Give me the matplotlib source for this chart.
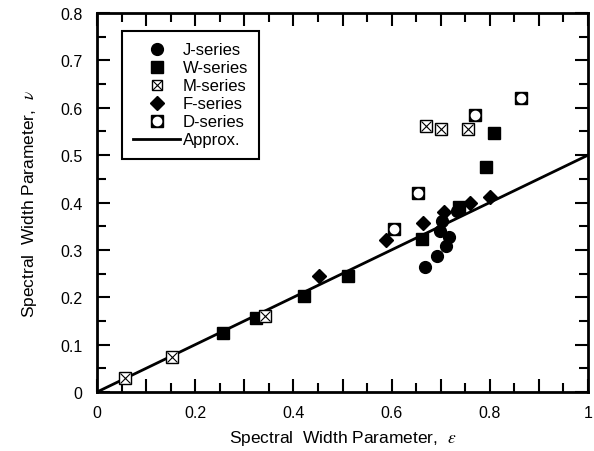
import matplotlib
matplotlib.use("Agg")
import matplotlib.pyplot as plt
import numpy as np
from matplotlib.ticker import MultipleLocator, FuncFormatter
from matplotlib.lines import Line2D

plt.rcParams['font.family'] = ['Liberation Sans', 'DejaVu Sans']
plt.rcParams['mathtext.fontset'] = 'stix'

# data
j_eps = [0.669, 0.693, 0.711, 0.717, 0.699, 0.703, 0.733]
j_nu = [0.264, 0.288, 0.309, 0.328, 0.340, 0.360, 0.383]

w_eps = [0.256, 0.324, 0.421, 0.511, 0.661, 0.737, 0.793, 0.809]
w_nu = [0.124, 0.156, 0.202, 0.245, 0.324, 0.390, 0.474, 0.546]

m_eps = [0.057, 0.152, 0.343, 0.671, 0.700, 0.756]
m_nu = [0.029, 0.073, 0.161, 0.562, 0.556, 0.556]

f_eps = [0.453, 0.589, 0.663, 0.707, 0.759, 0.800]
f_nu = [0.245, 0.320, 0.357, 0.379, 0.398, 0.412]

d_eps = [0.605, 0.654, 0.770, 0.863]
d_nu = [0.345, 0.421, 0.584, 0.620]

approx_eps = [0.0, 1.0]
approx_nu = [0.0, 0.5]

fs = 11.5

fig = plt.figure(figsize=(5.94, 4.52), dpi=100)
ax = fig.add_axes([0.1633, 0.1305, 0.8266, 0.8385])

ax.plot(approx_eps, approx_nu, color='black', lw=2, zorder=2)

ms = 8.5
ax.plot(j_eps, j_nu, 'o', color='black', ms=ms, zorder=3)
ax.plot(w_eps, w_nu, 's', color='black', ms=ms, zorder=3)
ax.plot(m_eps, m_nu, 's', mfc='white', mec='black', mew=1.0, ms=ms - 0.5, zorder=3)
ax.plot(m_eps, m_nu, 'x', color='black', mew=0.8, ms=ms - 1.5, zorder=4)
ax.plot(f_eps, f_nu, 'D', color='black', ms=ms - 1.5, zorder=3)
ax.plot(d_eps, d_nu, 's', color='black', ms=ms, zorder=3)
ax.plot(d_eps, d_nu, 'o', color='white', ms=ms - 2.5, zorder=4)

ax.set_xlim(0, 1)
ax.set_ylim(0, 0.8)

ax.xaxis.set_major_locator(MultipleLocator(0.1))
ax.xaxis.set_minor_locator(MultipleLocator(0.05))
ax.xaxis.set_major_formatter(FuncFormatter(
    lambda v, p: '' if round(v * 10) % 2 else ('%g' % round(v, 1))))
ax.yaxis.set_major_locator(MultipleLocator(0.1))
ax.yaxis.set_minor_locator(MultipleLocator(0.05))
ax.yaxis.set_major_formatter(FuncFormatter(lambda v, p: '%g' % round(v, 1)))

ax.tick_params(which='both', direction='in', top=True, right=True,
               labelsize=fs, width=1.5)
ax.tick_params(axis='x', which='major', pad=9)
ax.tick_params(axis='y', which='major', pad=10.5)
ax.tick_params(which='major', length=9.5)
ax.tick_params(which='minor', length=6.5)
for s in ax.spines.values():
    s.set_linewidth(2)

ax.set_xlabel(r'Spectral  Width Parameter,  $\varepsilon$', fontsize=12.5, labelpad=6)
ax.set_ylabel(r'Spectral  Width Parameter,  $\nu$', fontsize=12.5, labelpad=15)

# legend handles
h_j = Line2D([], [], ls='', marker='o', color='black', ms=ms)
h_w = Line2D([], [], ls='', marker='s', color='black', ms=ms)
h_m1 = Line2D([], [], ls='', marker='s', mfc='white', mec='black', mew=1.0, ms=ms - 1)
h_m2 = Line2D([], [], ls='', marker='x', color='black', mew=0.8, ms=ms - 2)
h_f = Line2D([], [], ls='', marker='D', color='black', ms=ms - 1.5)
h_d1 = Line2D([], [], ls='', marker='s', color='black', ms=ms)
h_d2 = Line2D([], [], ls='', marker='o', color='white', ms=ms - 2.5)
h_a = Line2D([], [], color='black', lw=2)

leg = ax.legend([h_j, h_w, (h_m1, h_m2), h_f, (h_d1, h_d2), h_a],
                ['J-series', 'W-series', 'M-series', 'F-series', 'D-series', 'Approx.'],
                loc='upper left', bbox_to_anchor=(0.051, 0.9525), fontsize=12,
                frameon=True, fancybox=False, edgecolor='black', framealpha=1,
                handlelength=2.8, handletextpad=0.15, labelspacing=0.18,
                borderpad=0.68, borderaxespad=0)
leg.get_frame().set_linewidth(1.5)

fig.savefig('out.png', dpi=100)
